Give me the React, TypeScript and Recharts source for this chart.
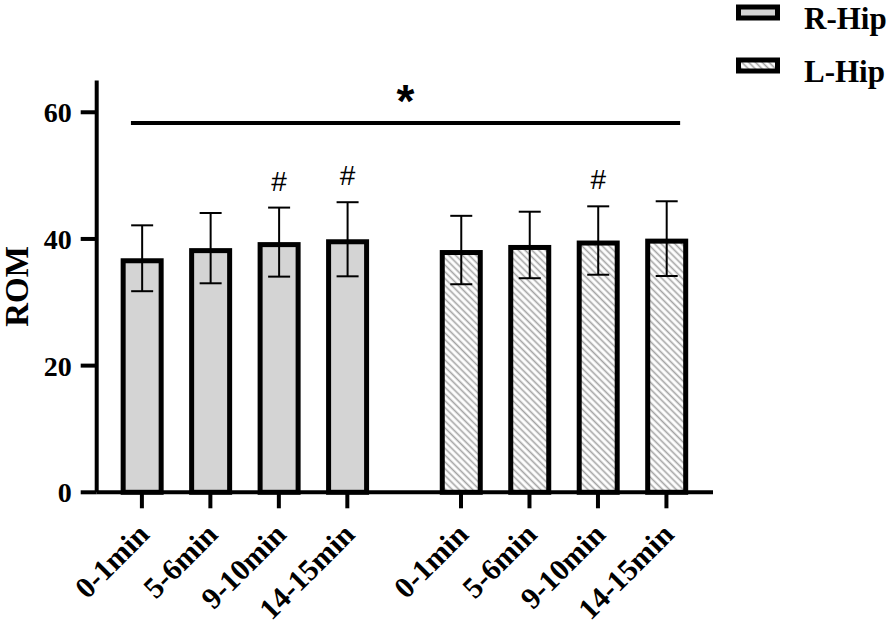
import {
  ComposedChart,
  Bar,
  Cell,
  ErrorBar,
  LabelList,
  XAxis,
  YAxis,
  ReferenceLine,
  Legend,
} from 'recharts'

const timeLabels = ['0-1min', '5-6min', '9-10min', '14-15min']
const rHipMean = [36.95, 38.55, 39.5, 39.95]
const rHipSD = [5.2, 5.55, 5.45, 5.85]
const rHipMark = ['', '', '#', '#']
const lHipMean = [38.25, 39.05, 39.75, 40.05]
const lHipSD = [5.4, 5.25, 5.4, 5.9]
const lHipMark = ['', '', '#', '']
const yTicks = [0, 20, 40, 60]
const sigLevel = 58.3

// layout of the two groups on a numeric x axis
const R_START = 0.66
const L_START = 5.32
const SERIF = '"Liberation Serif", "Times New Roman", serif'
const SANS = '"Liberation Sans", Arial, sans-serif'
const R_FILL = '#d4d4d4'

const data = [
  ...rHipMean.map((m, i) => ({ x: R_START + i, rom: m, sd: rHipSD[i], mark: rHipMark[i], side: 'R' })),
  ...lHipMean.map((m, i) => ({ x: L_START + i, rom: m, sd: lHipSD[i], mark: lHipMark[i], side: 'L' })),
]
const tickLabels = [...timeLabels, ...timeLabels]

function InsetBar(props: any) {
  const { x, y, width, height, fill } = props
  const s = 5
  if (!height) return null
  return (
    <rect
      x={x + s / 2}
      y={y + s / 2}
      width={width - s}
      height={Math.max(0, height - s / 2)}
      fill={fill}
      stroke="#000"
      strokeWidth={s}
    />
  )
}

function XTick(props: any) {
  const { x, y, index } = props
  const ax = x + 9
  const ay = y + 26
  return (
    <text
      x={ax}
      y={ay}
      transform={`rotate(-45, ${ax}, ${ay})`}
      textAnchor="end"
      fontFamily={SERIF}
      fontWeight="bold"
      fontSize={30}
      fill="#000"
    >
      {tickLabels[index]}
    </text>
  )
}

function HashLabel(props: any) {
  const { x, y, width, height, index, value } = props
  if (!value) return null
  const row = data[index]
  const ppu = height / row.rom
  return (
    <text
      x={x + width / 2}
      y={y - row.sd * ppu - 17}
      textAnchor="middle"
      fontFamily={SANS}
      fontSize={28}
      fill="#000"
    >
      {value}
    </text>
  )
}

function LegendBox() {
  const items = ['R-Hip', 'L-Hip']
  return (
    <svg width={160} height={100} style={{ display: 'block' }}>
      <defs>
        <pattern id="hatchLegend" patternUnits="userSpaceOnUse" width="6" height="4.8" patternTransform="rotate(45)">
          <rect width="6" height="4.8" fill="#fff" />
          <line x1="0" y1="2.4" x2="6" y2="2.4" stroke="#a3a3a3" strokeWidth="1.6" />
        </pattern>
      </defs>
      {items.map((name, i) => (
        <g key={name} transform={`translate(0, ${i * 53})`}>
          <rect
            x={2.5}
            y={7}
            width={39}
            height={11}
            fill={i === 0 ? R_FILL : 'url(#hatchLegend)'}
            stroke="#000"
            strokeWidth={5}
          />
          <text x={68} y={i === 0 ? 29 : 29} fontFamily={SERIF} fontWeight="bold" fontSize={31} fill="#000">
            {name}
          </text>
        </g>
      ))}
    </svg>
  )
}

export default function App() {
  return (
    <div style={{ position: 'absolute', left: 0, top: 0, width: 896, height: 624, background: '#fff' }}>
      <ComposedChart
        width={896}
        height={624}
        data={data}
        margin={{ top: 80.6, right: 183, bottom: 0, left: 0 }}
      >
        <defs>
          <pattern id="hatch" patternUnits="userSpaceOnUse" width="6" height="4.8" patternTransform="rotate(45)">
            <rect width="6" height="4.8" fill="#fff" />
            <line x1="0" y1="2.4" x2="6" y2="2.4" stroke="#a3a3a3" strokeWidth="1.6" />
          </pattern>
        </defs>
        <XAxis
          dataKey="x"
          type="number"
          domain={[0, 9]}
          ticks={data.map((d) => d.x)}
          interval={0}
          height={131.7}
          tickSize={16}
          axisLine={{ stroke: '#000', strokeWidth: 4 }}
          tickLine={{ stroke: '#000', strokeWidth: 4 }}
          tick={<XTick />}
        />
        <YAxis
          type="number"
          domain={[0, 65]}
          ticks={yTicks}
          interval={0}
          width={96.7}
          tickSize={16}
          tickMargin={9}
          axisLine={{ stroke: '#000', strokeWidth: 4 }}
          tickLine={{ stroke: '#000', strokeWidth: 4 }}
          tick={{ fill: '#000', fontFamily: SERIF, fontWeight: 'bold', fontSize: 28 }}
          label={{
            content: (p: any) => {
              const vb = p.viewBox
              const cx = vb.x + 28
              const cy = vb.y + vb.height / 2
              return (
                <text
                  x={cx}
                  y={cy}
                  transform={`rotate(-90, ${cx}, ${cy})`}
                  textAnchor="middle"
                  fontFamily={SERIF}
                  fontWeight="bold"
                  fontSize={33}
                  fill="#000"
                >
                  ROM
                </text>
              )
            },
          }}
        />
        <Legend
          layout="vertical"
          align="center"
          verticalAlign="middle"
          wrapperStyle={{ left: 736, top: 0, width: 160 }}
          content={() => <LegendBox />}
        />
        <ReferenceLine
          segment={[
            { x: 0.5, y: sigLevel },
            { x: 8.52, y: sigLevel },
          ]}
          stroke="#000"
          strokeWidth={4}
          label={{
            content: (p: any) => {
              const vb = p.viewBox
              const cx = vb.x + vb.width / 2
              return (
                <text x={cx} y={vb.y - 6} textAnchor="middle" fontFamily={SANS} fontWeight="bold" fontSize={46} fill="#000">
                  *
                </text>
              )
            },
          }}
        />
        <Bar dataKey="rom" barSize={43} shape={<InsetBar />} isAnimationActive={false}>
          {data.map((d, i) => (
            <Cell key={i} fill={d.side === 'R' ? R_FILL : 'url(#hatch)'} />
          ))}
          <ErrorBar dataKey="sd" width={11} stroke="#000" strokeWidth={2} isAnimationActive={false} />
          <LabelList dataKey="mark" content={<HashLabel />} />
        </Bar>
      </ComposedChart>
    </div>
  )
}
